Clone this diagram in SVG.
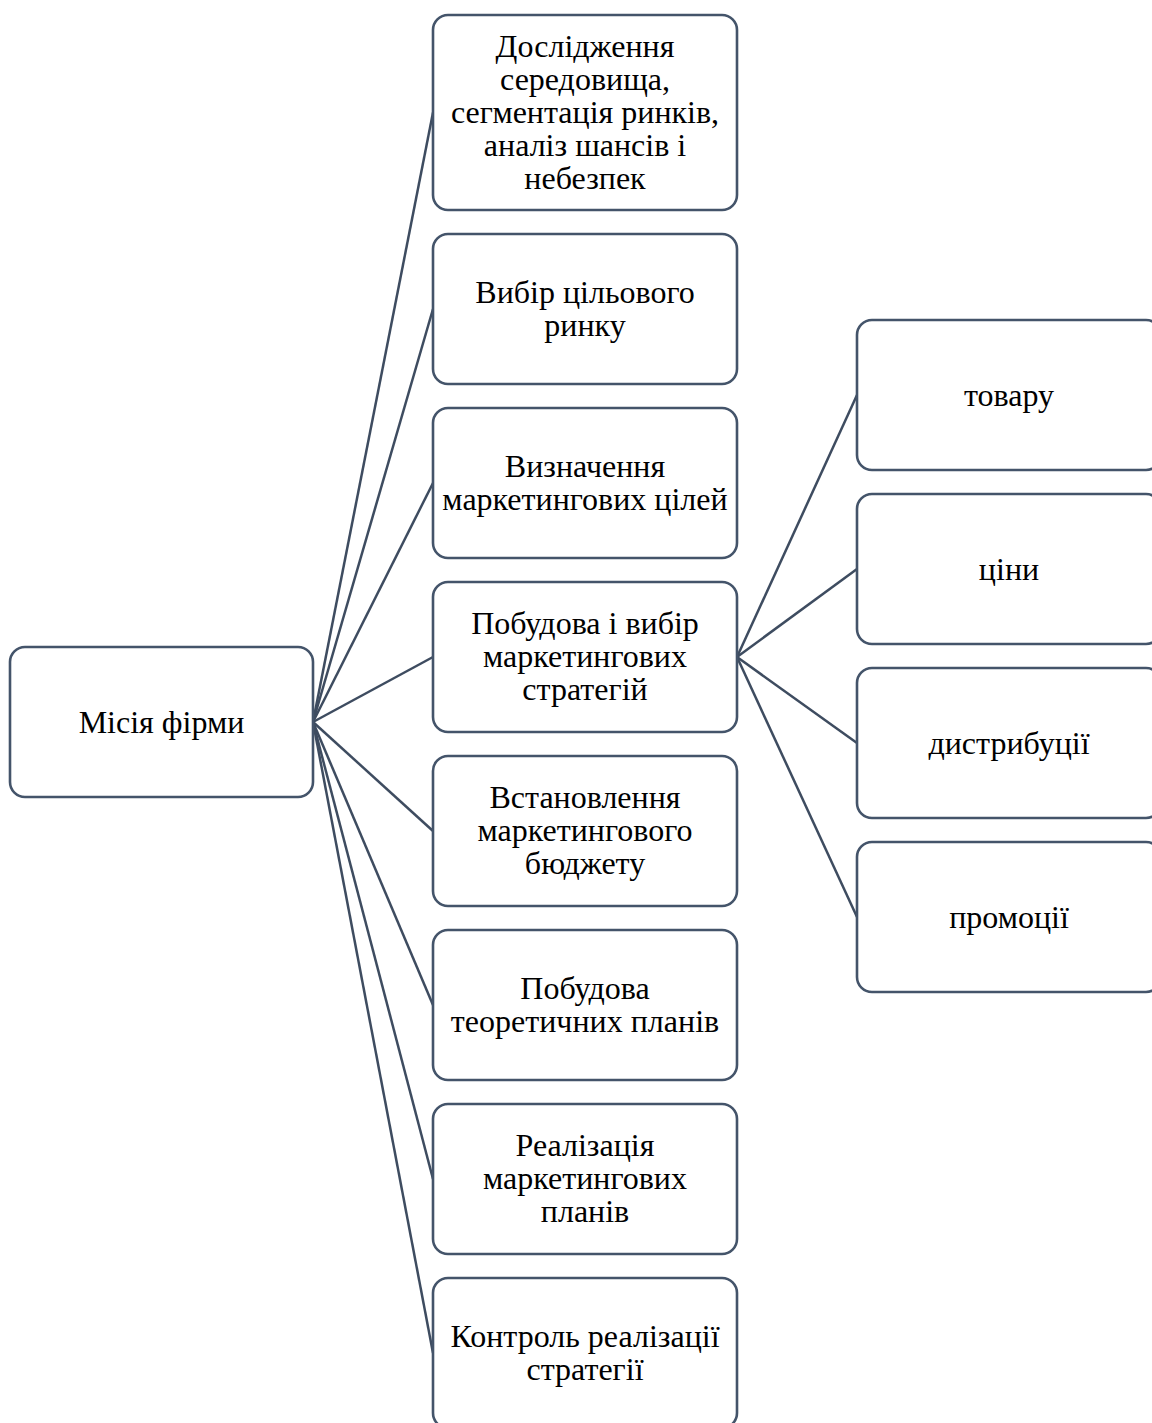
<svg xmlns="http://www.w3.org/2000/svg" width="1152" height="1423" viewBox="0 0 1152 1423">
<style>
.box{fill:#ffffff;stroke:#44546A;stroke-width:2.6}
.con line{stroke:#3E4C60;stroke-width:2.5}
text{font-family:"Liberation Serif","Times New Roman",serif;font-size:32px;fill:#000000;text-anchor:middle}
</style>
<rect width="1152" height="1423" fill="#ffffff"/>
<g class="con" id="connectors">
<line x1="313" y1="722" x2="433" y2="112.5"/>
<line x1="313" y1="722" x2="433" y2="309"/>
<line x1="313" y1="722" x2="433" y2="483"/>
<line x1="313" y1="722" x2="433" y2="657"/>
<line x1="313" y1="722" x2="433" y2="831"/>
<line x1="313" y1="722" x2="433" y2="1005"/>
<line x1="313" y1="722" x2="433" y2="1179"/>
<line x1="313" y1="722" x2="433" y2="1353"/>
<line x1="737" y1="657" x2="857" y2="395"/>
<line x1="737" y1="657" x2="857" y2="569"/>
<line x1="737" y1="657" x2="857" y2="743"/>
<line x1="737" y1="657" x2="857" y2="917"/>
</g>
<g id="n0"><rect class="box" x="10" y="647" width="303" height="150" rx="15"/><text x="161.5" y="733">Місія фірми</text></g>
<g id="n1"><rect class="box" x="433" y="15" width="304" height="195" rx="15"/>
<text x="585" y="57">Дослідження</text><text x="585" y="90">середовища,</text><text x="585" y="123">сегментація ринків,</text><text x="585" y="156">аналіз шансів і</text><text x="585" y="189">небезпек</text></g>
<g id="n2"><rect class="box" x="433" y="234" width="304" height="150" rx="15"/>
<text x="585" y="303">Вибір цільового</text><text x="585" y="336">ринку</text></g>
<g id="n3"><rect class="box" x="433" y="408" width="304" height="150" rx="15"/>
<text x="585" y="477">Визначення</text><text x="585" y="510">маркетингових цілей</text></g>
<g id="n4"><rect class="box" x="433" y="582" width="304" height="150" rx="15"/>
<text x="585" y="634">Побудова і вибір</text><text x="585" y="667">маркетингових</text><text x="585" y="700">стратегій</text></g>
<g id="n5"><rect class="box" x="433" y="756" width="304" height="150" rx="15"/>
<text x="585" y="808">Встановлення</text><text x="585" y="841">маркетингового</text><text x="585" y="874">бюджету</text></g>
<g id="n6"><rect class="box" x="433" y="930" width="304" height="150" rx="15"/>
<text x="585" y="999">Побудова</text><text x="585" y="1032">теоретичних планів</text></g>
<g id="n7"><rect class="box" x="433" y="1104" width="304" height="150" rx="15"/>
<text x="585" y="1156">Реалізація</text><text x="585" y="1189">маркетингових</text><text x="585" y="1222">планів</text></g>
<g id="n8"><rect class="box" x="433" y="1278" width="304" height="150" rx="15"/>
<text x="585" y="1347">Контроль реалізації</text><text x="585" y="1380">стратегії</text></g>
<g id="n9"><rect class="box" x="857" y="320" width="304" height="150" rx="15"/><text x="1009" y="406">товару</text></g>
<g id="n10"><rect class="box" x="857" y="494" width="304" height="150" rx="15"/><text x="1009" y="580">ціни</text></g>
<g id="n11"><rect class="box" x="857" y="668" width="304" height="150" rx="15"/><text x="1009" y="754">дистрибуції</text></g>
<g id="n12"><rect class="box" x="857" y="842" width="304" height="150" rx="15"/><text x="1009" y="928">промоції</text></g>
</svg>
